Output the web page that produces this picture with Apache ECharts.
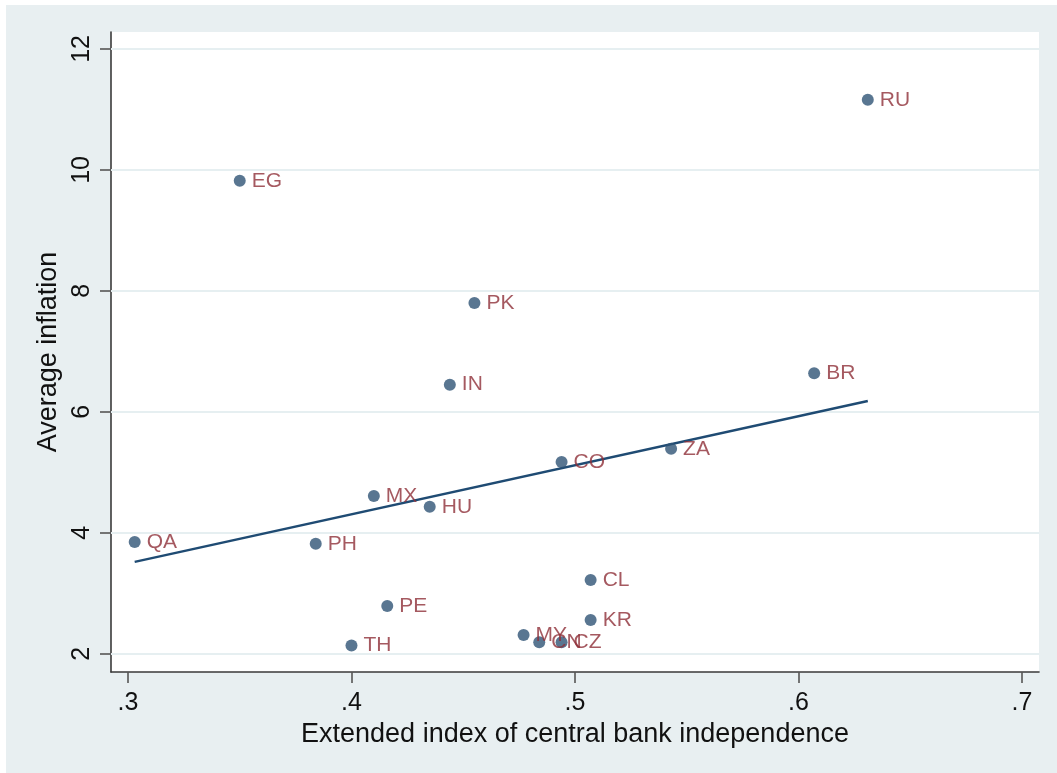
<!DOCTYPE html>
<html>
<head>
<meta charset="utf-8">
<script src="https://cdn.jsdelivr.net/npm/echarts@6/dist/echarts.min.js"></script>
<style>
  html, body { margin: 0; padding: 0; background: #ffffff; }
  #chart { position: absolute; left: 6px; top: 5px; width: 1051px; height: 768px; }
</style>
</head>
<body>
<div id="chart"></div>
<script>
// Country codes with central bank independence index and average inflation
const countries = ['RU', 'EG', 'PK', 'IN', 'BR', 'ZA', 'CO', 'MX', 'HU', 'QA', 'PH', 'TH', 'PE', 'CL', 'KR', 'MY', 'CN', 'CZ'];
const cbiIndex  = [0.631, 0.350, 0.455, 0.444, 0.607, 0.543, 0.494, 0.410, 0.435, 0.303, 0.384, 0.400, 0.416, 0.507, 0.507, 0.477, 0.484, 0.494];
const inflation = [11.16, 9.82, 7.80, 6.45, 6.64, 5.39, 5.17, 4.61, 4.43, 3.85, 3.82, 2.14, 2.79, 3.22, 2.56, 2.31, 2.19, 2.19];

// Linear fit, endpoints over the observed range
const fitX = [0.303, 0.631];
const fitY = [3.52, 6.18];

const xTicks = [0.3, 0.4, 0.5, 0.6, 0.7];
const yTicks = [2, 4, 6, 8, 10, 12];

const FONT = '"Liberation Sans", Arial, sans-serif';
const NAVY = '#1f4b73';
const DOT = '#2f5475';
const MAROON = '#8e3038';

const chart = echarts.init(document.getElementById('chart'));

chart.setOption({
  backgroundColor: '#e8eff1',
  animation: false,
  grid: {
    left: 105, top: 27, right: 18, bottom: 101,
    show: true, backgroundColor: '#ffffff', borderWidth: 0
  },
  xAxis: {
    type: 'value',
    min: 0.2924, max: 0.7076,
    name: 'Extended index of central bank independence',
    nameLocation: 'middle',
    nameGap: 44,
    nameTextStyle: { color: '#111', fontSize: 27, fontFamily: FONT },
    axisLine: { onZero: false, lineStyle: { color: '#3a3a3a', width: 1.6 } },
    axisTick: { customValues: xTicks, length: 11, lineStyle: { color: '#555', width: 1.6 } },
    axisLabel: {
      customValues: xTicks,
      margin: 19,
      color: '#111', fontSize: 25, fontFamily: FONT,
      formatter: v => v.toFixed(1).replace(/^0/, '')
    },
    splitLine: { show: false }
  },
  yAxis: {
    type: 'value',
    min: 1.70, max: 12.28,
    name: 'Average inflation',
    nameLocation: 'middle',
    nameGap: 37,
    nameTextStyle: { color: '#111', fontSize: 27, fontFamily: FONT },
    axisLine: { show: true, lineStyle: { color: '#3a3a3a', width: 1.6 } },
    axisTick: { show: true, customValues: yTicks, length: 11, lineStyle: { color: '#555', width: 1.6 } },
    axisLabel: {
      customValues: yTicks,
      rotate: 90,
      margin: 16,
      color: '#111', fontSize: 25, fontFamily: FONT,
      formatter: v => String(Math.round(v))
    },
    splitLine: { show: false }
  },
  series: [
    {
      // horizontal grid lines at the y ticks
      type: 'line',
      data: [],
      z: 1,
      silent: true,
      markLine: {
        z: 1,
        silent: true,
        symbol: 'none',
        label: { show: false },
        emphasis: { disabled: true },
        lineStyle: { color: '#e6eff1', width: 2, type: 'solid' },
        data: yTicks.map(v => ({ yAxis: v }))
      }
    },
    {
      type: 'line',
      z: 3,
      data: fitX.map((x, i) => [x, fitY[i]]),
      showSymbol: false,
      lineStyle: { color: NAVY, width: 2.4 },
      silent: true
    },
    {
      type: 'scatter',
      z: 4,
      symbol: 'circle',
      symbolSize: 12,
      itemStyle: { color: DOT },
      data: countries.map((c, i) => ({ name: c, value: [cbiIndex[i], inflation[i]] })),
      label: {
        show: true,
        position: 'right',
        distance: 6,
        formatter: p => p.name,
        color: MAROON,
        fontSize: 21,
        fontFamily: FONT
      }
    }
  ]
});
</script>
</body>
</html>
